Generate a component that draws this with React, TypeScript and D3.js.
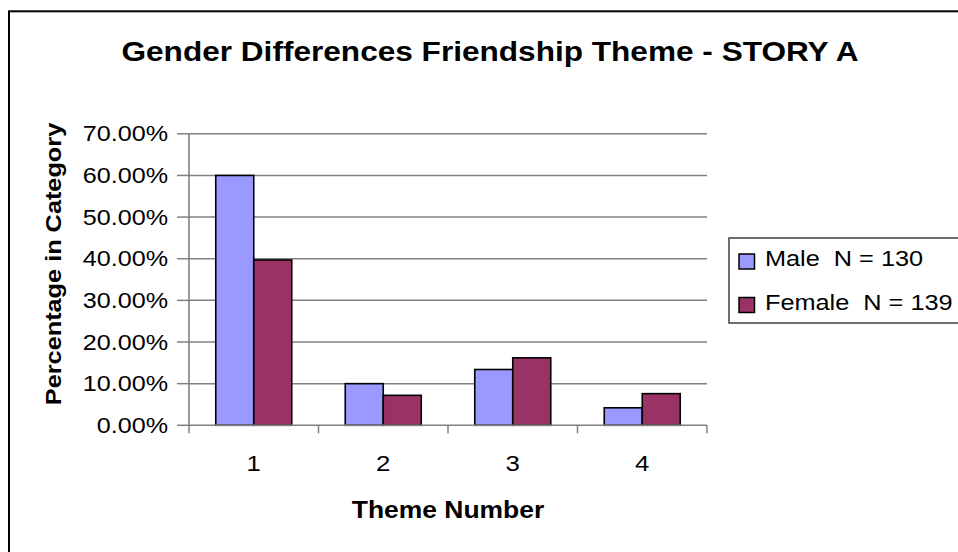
import React from "react";
import * as d3 from "d3";

const themes = ["1", "2", "3", "4"];
const seriesNames = ["Male  N = 130", "Female  N = 139"];
const maleValues = [0.6, 0.1, 0.134, 0.042];
const femaleValues = [0.397, 0.072, 0.162, 0.076];
const yTicks = [0, 0.1, 0.2, 0.3, 0.4, 0.5, 0.6, 0.7];
const seriesColors = ["#9999FF", "#993366"];

const W = 958;
const H = 552;
const plot = { left: 189, right: 707, top: 133.8, bottom: 425.3 };
const FONT = "Liberation Sans, Arial, sans-serif";
const SX = 1.2; // wide glyph rendering used throughout the chart

function WideText({ x, y, size, bold, anchor, rotate, sx = SX, children }: any) {
  return (
    <text
      transform={`translate(${x},${y}) rotate(${rotate || 0}) scale(${sx},1)`}
      fontFamily={FONT}
      fontSize={size}
      fontWeight={bold ? "bold" : "normal"}
      textAnchor={anchor || "start"}
      fill="#000"
      style={{ whiteSpace: "pre" }}
    >
      {children}
    </text>
  );
}

export default function App() {
  const x = d3.scaleBand<string>().domain(themes).range([plot.left, plot.right]).padding(0);
  const y = d3.scaleLinear().domain([0, 0.7]).range([plot.bottom, plot.top]);
  const barW = 38;
  const inner = d3.scaleBand<number>().domain([0, 1]).range([-barW, barW]).padding(0);
  const series = [maleValues, femaleValues];
  const fmt = d3.format(".2%");

  return (
    <svg
      width={W}
      height={H}
      style={{ position: "absolute", left: 0, top: 0, background: "#fff" }}
    >
      <rect x={0} y={0} width={W} height={H} fill="#fff" />
      {/* chart frame */}
      <rect x={9} y={11.3} width={W + 20} height={H + 20} fill="none" stroke="#000" strokeWidth={2} />

      <WideText x={490} y={61} size={27} bold anchor="middle" sx={1.17}>
        Gender Differences Friendship Theme - STORY A
      </WideText>

      {/* gridlines and y ticks */}
      {yTicks.map((t) => (
        <g key={t}>
          {t > 0 && (
            <line x1={plot.left} x2={plot.right} y1={y(t)} y2={y(t)} stroke="#808080" strokeWidth={1.5} />
          )}
          <line x1={plot.left - 12} x2={plot.left} y1={y(t)} y2={y(t)} stroke="#808080" strokeWidth={1.5} />
          <WideText x={168} y={y(t) + 7.5} size={21.5} anchor="end" sx={1.17}>
            {fmt(t)}
          </WideText>
        </g>
      ))}

      {/* bars */}
      {themes.map((c, i) => {
        const cx = (x(c) as number) + x.bandwidth() / 2;
        return series.map((vals, s) => (
          <rect
            key={c + s}
            x={cx + (inner(s) as number)}
            y={y(vals[i])}
            width={inner.bandwidth()}
            height={y(0) - y(vals[i])}
            fill={seriesColors[s]}
            stroke="#000"
            strokeWidth={1.6}
          />
        ));
      })}

      {/* axes */}
      <line x1={plot.left} x2={plot.left} y1={plot.top} y2={plot.bottom} stroke="#808080" strokeWidth={1.6} />
      <line x1={plot.left} x2={plot.right} y1={plot.bottom} y2={plot.bottom} stroke="#808080" strokeWidth={1.6} />
      {[...themes.map((c) => x(c) as number), plot.right].map((px, i) => (
        <line key={i} x1={px} x2={px} y1={plot.bottom} y2={plot.bottom + 8} stroke="#808080" strokeWidth={1.5} />
      ))}
      {themes.map((c) => (
        <WideText key={c} x={(x(c) as number) + x.bandwidth() / 2} y={471} size={21.5} anchor="middle">
          {c}
        </WideText>
      ))}

      <WideText x={448} y={518} size={23} bold anchor="middle" sx={1.15}>
        Theme Number
      </WideText>
      <WideText x={61} y={264} size={22} bold anchor="middle" rotate={-90} sx={1.15}>
        Percentage in Category
      </WideText>

      {/* legend */}
      <rect x={729} y={238} width={260} height={85} fill="#fff" stroke="#404040" strokeWidth={1.5} />
      {seriesNames.map((name, s) => (
        <g key={name}>
          <rect x={739} y={254 + s * 43.5} width={15.5} height={15} fill={seriesColors[s]} stroke="#000" strokeWidth={1.5} />
          <WideText x={765} y={266 + s * 43.5} size={22} sx={1.15}>
            {name}
          </WideText>
        </g>
      ))}
    </svg>
  );
}
